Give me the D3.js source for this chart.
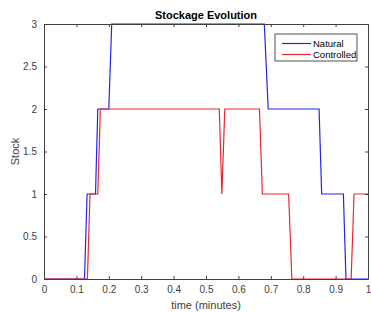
<!DOCTYPE html>
<html>
<head>
<meta charset="utf-8">
<script src="https://cdn.jsdelivr.net/npm/d3@7"></script>
<style>
  body { margin: 0; background: #fff; }
  text { font-family: "Liberation Sans", Arial, sans-serif; }
</style>
</head>
<body>
<svg id="chart" width="371" height="313"></svg>
<script>
// Series vertices: [time (minutes), stock]
const natural = [
  [0, 0], [0.125, 0], [0.133, 1], [0.159, 1], [0.166, 2], [0.2, 2], [0.209, 3],
  [0.680, 3], [0.692, 2], [0.849, 2], [0.857, 1], [0.924, 1], [0.932, 0], [1, 0]
];
const controlled = [
  [0, 0], [0.134, 0], [0.142, 1], [0.166, 1], [0.174, 2], [0.541, 2], [0.549, 1],
  [0.558, 2], [0.665, 2], [0.674, 1], [0.755, 1], [0.765, 0], [0.948, 0], [0.957, 1], [1, 1]
];
const seriesNames = ["Natural", "Controlled"];
const xTicks = [0, 0.1, 0.2, 0.3, 0.4, 0.5, 0.6, 0.7, 0.8, 0.9, 1];
const yTicks = [0, 0.5, 1, 1.5, 2, 2.5, 3];

const svg = d3.select("#chart");
const plotL = 44, plotR = 368, plotT = 24, plotB = 279;
const axisColor = "#404040";
const colors = ["#2424e8", "#e82830"];

const x = d3.scaleLinear().domain([0, 1]).range([plotL, plotR]);
const y = d3.scaleLinear().domain([0, 3]).range([plotB, plotT]);

// lines
const line = d3.line().x(d => x(d[0])).y(d => y(d[1]));
[natural, controlled].forEach((data, i) => {
  svg.append("path")
    .datum(data)
    .attr("fill", "none")
    .attr("stroke", colors[i])
    .attr("stroke-width", 1.2)
    .attr("d", line);
});

// axes (MATLAB style: inward ticks, box)
const fmt = d => d3.format("")(d);
const styleAxis = g => {
  g.select(".domain").attr("stroke", axisColor);
  g.selectAll(".tick line").attr("stroke", axisColor);
  g.selectAll(".tick text").attr("fill", axisColor).attr("font-size", 10)
    .style("font-family", "'Liberation Sans', Arial, sans-serif");
};
svg.append("g").attr("transform", `translate(0,${plotB})`)
  .call(d3.axisBottom(x).tickValues(xTicks).tickFormat(fmt).tickSizeInner(-3).tickSizeOuter(0).tickPadding(7))
  .call(styleAxis);
svg.append("g").attr("transform", `translate(0,${plotT})`)
  .call(d3.axisTop(x).tickValues(xTicks).tickFormat("").tickSizeInner(-3).tickSizeOuter(0))
  .call(styleAxis);
svg.append("g").attr("transform", `translate(${plotL},0)`)
  .call(d3.axisLeft(y).tickValues(yTicks).tickFormat(fmt).tickSizeInner(-3).tickSizeOuter(0).tickPadding(7))
  .call(styleAxis);
svg.append("g").attr("transform", `translate(${plotR},0)`)
  .call(d3.axisRight(y).tickValues(yTicks).tickFormat("").tickSizeInner(-3).tickSizeOuter(0))
  .call(styleAxis);

// title and labels
svg.append("text")
  .attr("x", (plotL + plotR) / 2).attr("y", 19)
  .attr("text-anchor", "middle")
  .attr("font-size", 11).attr("font-weight", "bold")
  .attr("fill", "#000")
  .text("Stockage Evolution");

svg.append("text")
  .attr("x", (plotL + plotR) / 2).attr("y", 309)
  .attr("text-anchor", "middle")
  .attr("font-size", 11)
  .attr("fill", axisColor)
  .text("time (minutes)");

svg.append("text")
  .attr("transform", `translate(19,${(plotT + plotB) / 2}) rotate(-90)`)
  .attr("text-anchor", "middle")
  .attr("font-size", 11)
  .attr("fill", axisColor)
  .text("Stock");

// legend
const legend = svg.append("g").attr("transform", "translate(275,34)");
legend.append("rect")
  .attr("width", 82).attr("height", 27)
  .attr("fill", "#fff").attr("stroke", "#262626").attr("stroke-width", 0.8);
seriesNames.forEach((name, i) => {
  const ly = 9.5 + i * 11;
  legend.append("line")
    .attr("x1", 7).attr("x2", 36)
    .attr("y1", ly).attr("y2", ly)
    .attr("stroke", colors[i]).attr("stroke-width", 1.2);
  legend.append("text")
    .attr("x", 38).attr("y", ly + 3.5)
    .attr("font-size", 9.5)
    .attr("fill", "#000")
    .text(name);
});
</script>
</body>
</html>
